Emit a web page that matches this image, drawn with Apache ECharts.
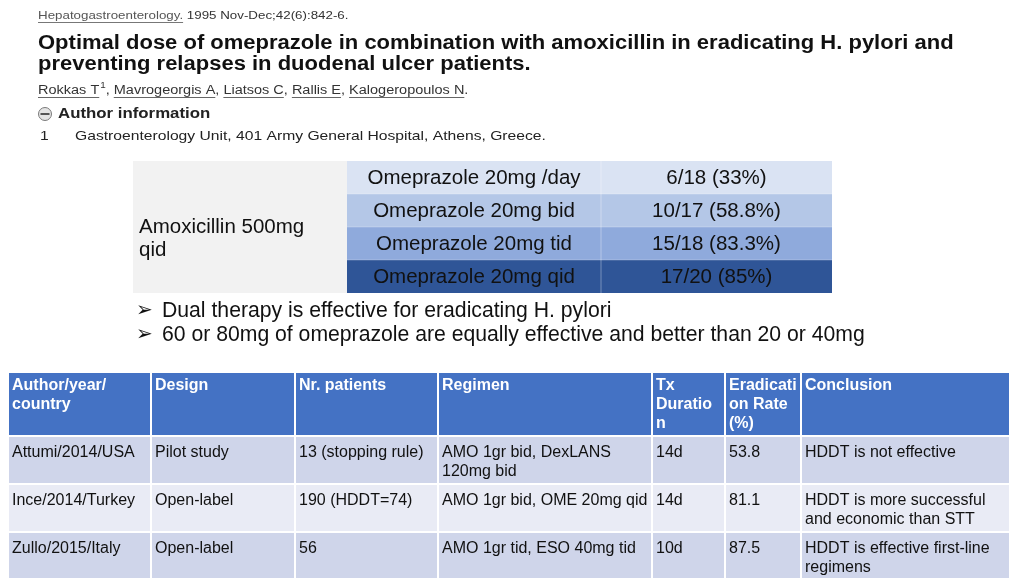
<!DOCTYPE html>
<html><head><meta charset="utf-8">
<script src="https://cdn.jsdelivr.net/npm/echarts@6/dist/echarts.min.js"></script>
<style>html,body{margin:0;padding:0;background:#fff}#c{width:1024px;height:586px}</style>
</head><body><div id="c"></div>
<script>
// ---------- content ----------
const journalName = "Hepatogastroenterology.";
const citation = "1995 Nov-Dec;42(6):842-6.";
const titleLines = [
  "Optimal dose of omeprazole in combination with amoxicillin in eradicating H. pylori and",
  "preventing relapses in duodenal ulcer patients."
];
const authors = ["Rokkas T", "Mavrogeorgis A", "Liatsos C", "Rallis E", "Kalogeropoulos N"];
const authorInfoLabel = "Author information";
const affiliationNo = "1";
const affiliation = "Gastroenterology Unit, 401 Army General Hospital, Athens, Greece.";

const doseGroup = ["Amoxicillin 500mg", "qid"];
const doseRegimens = ["Omeprazole 20mg /day", "Omeprazole 20mg bid", "Omeprazole 20mg tid", "Omeprazole 20mg qid"];
const doseResults = ["6/18 (33%)", "10/17 (58.8%)", "15/18 (83.3%)", "17/20 (85%)"];
const bullets = [
  "Dual therapy is effective for eradicating H. pylori",
  "60 or 80mg of omeprazole are equally effective and better than 20 or 40mg"
];

const studyHeaders = ["Author/year/\ncountry", "Design", "Nr. patients", "Regimen", "Tx\nDuratio\nn", "Eradicati\non Rate\n(%)", "Conclusion"];
const studyAuthors = ["Attumi/2014/USA", "Ince/2014/Turkey", "Zullo/2015/Italy"];
const studyDesigns = ["Pilot study", "Open-label", "Open-label"];
const studyPatients = ["13 (stopping rule)", "190 (HDDT=74)", "56"];
const studyRegimens = ["AMO 1gr bid, DexLANS\n120mg bid", "AMO 1gr bid, OME 20mg qid", "AMO 1gr tid, ESO 40mg tid"];
const studyDurations = ["14d", "14d", "10d"];
const studyRates = [53.8, 81.1, 87.5];
const studyConclusions = ["HDDT is not effective", "HDDT is more successful\nand economic than STT", "HDDT is effective first-line\nregimens"];

// ---------- layout ----------
const SANS = "'Liberation Sans', Arial, sans-serif";
const SX = 1.16; // horizontal stretch of the pasted abstract header
const ctx = document.createElement('canvas').getContext('2d');
function tw(text, font) { ctx.font = font; return ctx.measureText(text).width; }
const els = [];
function txt(x, y, text, o) {
  o = o || {};
  const size = o.size || 12, weight = o.weight || 'normal', fam = o.family || SANS, sx = o.sx || 1;
  els.push({
    type: 'text', x: x, y: y, scaleX: sx, silent: true,
    style: {
      text: text, fontSize: size, fontWeight: weight, fontFamily: fam,
      fill: o.fill || '#111', align: o.align || 'left', textAlign: o.align || 'left',
      verticalAlign: o.valign || 'middle', textVerticalAlign: o.valign || 'middle',
      lineHeight: o.lineHeight || Math.round(size * 1.2)
    }
  });
  return tw(text, weight + ' ' + size + 'px ' + fam) * sx;
}
function rect(x, y, w, h, fill, stroke, lw) {
  els.push({ type: 'rect', silent: true, shape: { x: x, y: y, width: w, height: h },
    style: { fill: fill, stroke: stroke || null, lineWidth: lw || 0 } });
}
function hline(x1, x2, y, color) {
  els.push({ type: 'line', silent: true, shape: { x1: x1, y1: y, x2: x2, y2: y },
    style: { stroke: color, lineWidth: 1 } });
}

// header citation
let x = 38;
let w = txt(x, 16, journalName, { size: 11.5, fill: '#555', sx: SX });
hline(x, x + w, 22.5, '#777');
txt(x + w + tw(' ', '11.5px ' + SANS) * SX, 16, citation, { size: 11.5, fill: '#333', sx: SX });

// title
titleLines.forEach((t, i) => txt(38, 43 + i * 21, t, { size: 20, weight: 'bold', fill: '#111', sx: 1.1 }));

// authors
x = 38;
authors.forEach((a, i) => {
  w = txt(x, 91, a, { size: 12.5, fill: '#333', sx: SX });
  hline(x, x + w, 97.5, '#666');
  x += w;
  if (i === 0) { x += txt(x + 1, 86, affiliationNo, { size: 8.5, fill: '#333', sx: SX }) + 1; }
  const sep = i < authors.length - 1 ? ', ' : '.';
  x += txt(x, 91, sep, { size: 12.5, fill: '#333', sx: SX });
});

// author information
els.push({ type: 'circle', silent: true, shape: { cx: 45, cy: 114, r: 6.5 }, style: { fill: '#e4e4e4', stroke: '#7a7a7a', lineWidth: 1 } });
rect(40.5, 113, 9, 2, '#555');
txt(58, 114, authorInfoLabel, { size: 14.5, weight: 'bold', fill: '#222', sx: SX });
txt(40, 136, affiliationNo, { size: 13.5, fill: '#222', sx: SX });
txt(75, 136, affiliation, { size: 13.5, fill: '#222', sx: SX });

// dose table
const dCols = [133, 347, 601, 832];
const dTop = 161, dRowH = 33;
const dFills = ['#dae3f3', '#b4c7e7', '#8faadc', '#2f5597'];
rect(dCols[0], dTop, dCols[1] - dCols[0], dRowH * doseRegimens.length, '#f2f2f2');
doseRegimens.forEach((r, i) => {
  const y = dTop + i * dRowH;
  rect(dCols[1], y, dCols[3] - dCols[1], dRowH, dFills[i]);
  txt((dCols[1] + dCols[2]) / 2, y + dRowH / 2 + 1, r, { size: 20.5, align: 'center', fill: '#111' });
  txt((dCols[2] + dCols[3]) / 2, y + dRowH / 2 + 1, doseResults[i], { size: 20.5, align: 'center', fill: '#111' });
});
els.push({ type: 'line', silent: true, shape: { x1: dCols[2], y1: dTop, x2: dCols[2], y2: dTop + dRowH * 4 }, style: { stroke: 'rgba(255,255,255,0.35)', lineWidth: 1 } });
doseRegimens.forEach((r, i) => { if (i) hline(dCols[1], dCols[3], dTop + i * dRowH, 'rgba(255,255,255,0.25)'); });
txt(139, 239, doseGroup.join('\n'), { size: 20.5, fill: '#111', lineHeight: 23 });

// bullets
bullets.forEach((b, i) => {
  txt(136, 311 + i * 24, '\u27A2', { size: 20, family: "'DejaVu Sans', sans-serif", fill: '#111' });
  txt(162, 311 + i * 24, b, { size: 21.2, fill: '#111' });
});

// study table
const sCols = [8, 151, 295, 438, 652, 725, 801, 1010];
const sRows = [372, 436, 484, 532, 579];
const rowFills = ['#cfd5ea', '#e9ebf5', '#cfd5ea'];
const studyCols = [studyAuthors, studyDesigns, studyPatients, studyRegimens, studyDurations, studyRates.map(v => v.toFixed(1)), studyConclusions];
studyHeaders.forEach((h, c) => {
  rect(sCols[c], sRows[0], sCols[c + 1] - sCols[c], sRows[1] - sRows[0], '#4472c4', '#ffffff', 2);
  txt(sCols[c] + 4, sRows[0] + 4.5, h, { size: 16, weight: 'bold', fill: '#ffffff', valign: 'top', lineHeight: 19 });
});
studyAuthors.forEach((a, r) => {
  studyCols.forEach((col, c) => {
    rect(sCols[c], sRows[r + 1], sCols[c + 1] - sCols[c], sRows[r + 2] - sRows[r + 1], rowFills[r], '#ffffff', 2);
    txt(sCols[c] + 4, sRows[r + 1] + 7.5, col[r], { size: 16, fill: '#111', valign: 'top', lineHeight: 19 });
  });
});

const chart = echarts.init(document.getElementById('c'), null, { renderer: 'canvas' });
chart.setOption({ backgroundColor: '#ffffff', animation: false, graphic: { elements: els } });
</script></body></html>
